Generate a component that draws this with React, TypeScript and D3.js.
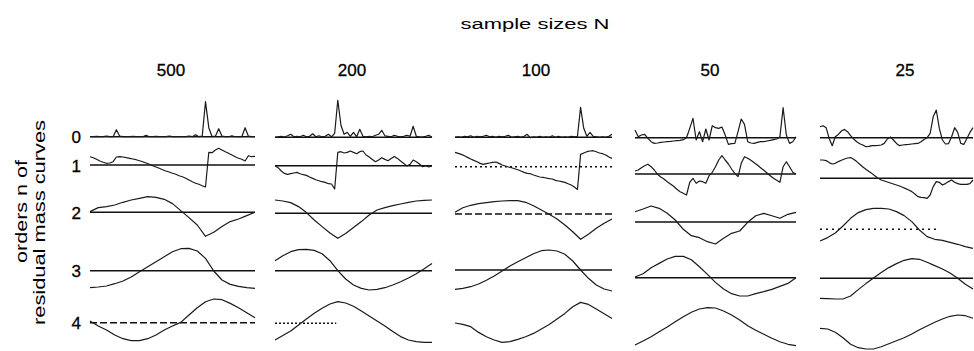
import React, { useEffect, useRef } from 'react'
import * as d3 from 'd3'

// sample sizes (columns) and orders of residual mass curves (rows)
const sampleSizes = ['500', '200', '100', '50', '25']
const orders = ['0', '1', '2', '3', '4']

// curve values, deviation from each panel's zero line (up = positive)
const n500 = [
    [0, 0, 0.3, 0, 0, 0.5, 0, 0, 7, 0.5, 0, 0, 0, 0.3, 0, 0, 0, 1.5, 0, 0, 0.3, 0, 0, 0, 0.5, 0, 0, 0, 0, 0, 0.5, 0, 2, 0, 0.5, 35, 9, 0, 0.5, 8, 0.5, 0, 0, 1, 0, 0, 0, 9, 0.5, 0, 0],
    [8.3, 7.3, 5.7, 4, 2.7, 1.7, 2, 3.3, 8, 8.3, 8, 7.3, 6.7, 6, 5.3, 4.3, 3.3, 2, 0.7, -0.7, -2, -3.3, -4.7, -6, -7, -8.3, -9.3, -10.7, -11.7, -13.3, -15, -16.7, -18.3, -19.3, -20.7, -22, 12.7, 12.3, 15, 16.7, 15, 13.3, 11.7, 10, 8.3, 6.7, 5.7, 4, 9.3, 8.3, 8.7],
    [0.7, 4.7, 5.7, 7.3, 10, 12.3, 14, 15.7, 15, 13, 8.7, 1.7, -5.3, -12.7, -24, -20, -14.3, -9.3, -6.7, -3.3, 0],
    [-17, -16.3, -15.3, -13, -10.3, -6.3, -1, 4, 9, 14, 19, 22, 22.3, 19.7, 12.3, -0.3, -9.3, -13.7, -15.7, -17, -17.7],
    [1.7, -3.3, -7.3, -12.3, -16, -18, -18, -16, -12.3, -7.3, -3.3, 0.3, 7.7, 15, 21, 23.7, 23, 19.3, 15, 10, 5]
]
const n200 = [
    [0, 0.5, 1, 0.3, 1.5, 3, 0.5, 1, 0.5, 2, 0.5, 1, 3.5, 0.5, 1.5, 0.5, 1, 3, 0.5, 4, 37, 12, 3, 5, 1, 5, 0.5, 8, 1, 0.5, 1, 0.5, 2, 3, 7, 1.5, 1, 0.5, 2, 1, 0.5, 1, 2, 1, 11, 1, 0.5, 0.3, 1, 2, 0],
    [0, -2, -5.3, -7.7, -8.7, -8, -7.3, -6.7, -8, -9, -9.7, -11.3, -12.7, -14, -15, -16, -16.7, -18, -18.3, -23.3, 13.3, 14, 12.7, 13.3, 14.7, 13.3, 12, 14, 14.7, 10.7, 8.7, 6.3, 4, 5.7, 8, 6.3, 5, 7.3, 9.3, 7.3, 4.7, 2.3, -0.3, 1.3, 5.7, 4, 1.7, -1, 0, -1.3, -0.3],
    [13.3, 12.3, 10.7, 6.7, 0.7, -6.7, -13.3, -19.7, -25, -20.3, -14.3, -8.3, -1.7, 3.3, 5.7, 7.7, 9.3, 11, 12.3, 13, 13.3],
    [10, 15, 19, 21, 21.3, 20.3, 17, 10, 0, -8.3, -14.3, -17.7, -19.3, -18.7, -17, -14.3, -11, -7.3, -3, 2, 7.3],
    [-16.7, -12.3, -7.7, -1.7, 4.3, 10, 15, 19.3, 21.7, 20.3, 17, 12.3, 7.3, 2.3, -2.7, -8.3, -13.3, -16.7, -18.3, -19, -19]
]
const n100 = [
    [0, 0.5, 0, 1, 0.5, 1.5, 0, 1, 0.5, 1, 2, 0.5, 1, 0, 1, 0.5, 1, 2, 0, 0.5, 1, 0, 1, 3, -0.5, 0.5, 0, 1, 0, 0.5, 0, 1.5, 0, 1, 0, 0.5, 0, 1, 0.5, 1, 30, 9, 1, 5, 1, 0.5, 0, 0.5, 0, 1, 3],
    [14.3, 13.3, 12.3, 11, 9.3, 7.7, 6.3, 5, 3.3, 2.3, 3, 3.7, 4.3, 4.7, 3.3, 1.7, 0.7, -0.3, -1, -2, -3, -4.3, -5.7, -6.7, -7, -8.3, -9.3, -10.3, -10.7, -11.3, -12, -12.3, -13.7, -14.3, -15, -15.7, -17, -18.3, -20.3, -22.7, 12.3, 13.7, 15, 15.7, 16, 15, 13.7, 13, 11.7, 9.7, 8.3],
    [1.7, 6.3, 8.7, 10.3, 11.3, 12.3, 13, 13.3, 13.3, 11.7, 8.3, 4, -0.3, -5, -11, -17.7, -25.3, -20.3, -14.3, -9.3, -5],
    [-19.3, -18.3, -16.7, -14, -10.3, -6, -1, 4, 8.3, 12.3, 16.3, 19.3, 20, 19, 15.7, 9, 0, -8.3, -15, -19, -21],
    [-0.3, -1.7, -4, -9.7, -14, -17.3, -19.7, -19, -16.7, -14, -10.7, -6.3, -1.7, 3.7, 9.3, 16, 20.3, 18.3, 13.7, 9, 4.3]
]
const n50 = [
    [7.7, 1, 2.7, 3.3, -0.7, -4, -5.7, -5.3, -4.7, -4.3, -4, -3.7, -3.3, -3, -2.7, -2, 0, 9.3, 19.3, -2.3, 6, -4, 8.7, -2.3, 12, 10, 9.3, 10.7, 2.7, -6.7, -6, -5.7, 6, 18.7, 13.3, -4, -5.3, -5.7, -4.7, -4, -4, -3.3, -2.7, -2, -1.3, 1, 30, 2.7, -5.7, -4, 1],
    [3, 4, 6.3, 8.3, 9.7, 7.3, 4, -0.3, -3, -5, -7.7, -10, -12.3, -15.3, -17.7, -19.3, -21, -8.3, -4.3, -9.3, -7, -7.7, -9.3, -1.7, 1.7, 7.3, 14, 18.3, 14, 10, 5, 0.7, -2.7, 10.7, 17.3, 15.7, 13.7, 11.3, 9, 6.3, 3.7, 1, -1.7, -4.3, -6.3, -8.3, 7.3, 12.3, 7.3, 1.7, 0],
    [10.3, 13, 16, 13.7, 8.7, 2, -7.3, -13.7, -15.7, -19.7, -22, -16.3, -11.3, -9, -0.3, 6.3, 8.7, 6.3, 3.7, 7.7, 9.7],
    [0.7, 4, 10, 14.3, 18.7, 21.3, 21.3, 18, 11, 3.3, -4.7, -11.3, -16, -18.3, -18.3, -16, -14, -11.7, -8.7, -5.7, 0],
    [-20, -16, -11.7, -6.7, -2, 3.3, 8.3, 12.7, 16, 17.3, 17, 14, 10, 5, -0.7, -5.3, -9.3, -13.3, -16.7, -19.3, -20.7]
]
const n25 = [
    [11, 12, 10, -0.7, -8, 1, 3.3, 6.7, 8.3, 6, 2, -1.3, -4, -6, -7.3, -9, -8.7, -8, -8, -7.7, -7.3, -5.7, -1.3, 0.7, -2.3, -5.7, -8, -7.3, -7, -6.7, -6.3, -6, -5.7, -4, -1.7, 0, 4.3, 21, 27.7, 9.3, -2.3, -6.3, -6, 1, 10, 5.3, -5.7, -6.7, -0.7, 5.3, 10],
    [18.3, 18.3, 17.7, 15.7, 14.3, 15, 16.7, 18, 19.3, 20.3, 20.7, 19, 16.7, 14, 11.3, 9, 6.7, 4.7, 2.3, 0, -1.7, -2.7, -3.7, -4.7, -5.7, -6.7, -7.7, -9, -10.3, -11.7, -13.3, -15.7, -18.3, -19, -19.3, -20, -16.7, -8.3, -3.3, -4, -6.7, -5.3, -3.3, -1.7, -4, -5.3, -6, -6, -6, -5.3, -1.7],
    [-11.7, -8.3, -3.7, 3.3, 11, 16.7, 19.7, 21, 21, 20.3, 17.7, 13.7, 7.7, -0.7, -7.3, -10, -11, -13, -15, -17.3, -19],
    [-20, -20.3, -20.7, -20.7, -17.7, -11.3, -5.3, 0.3, 5.7, 10.7, 14.7, 18, 19.7, 19, 16, 12.7, 9.3, 5.3, 0, -6, -10.7],
    [2.7, 2, -1.3, -6.7, -13.3, -16.7, -18, -18, -15.7, -12.7, -9.7, -6.7, -3, 1.3, 5, 8.7, 12, 14.7, 16, 15.3, 12.7]
]
const curves = [n500, n200, n100, n50, n25]

export default function App() {
    const ref = useRef(null)
    const width = 974
    const height = 351

    // panel layout
    const colX = [[90, 255], [275, 432], [455, 612], [635, 796], [820, 973]]
    const labelX = [171, 352, 536, 710, 905]
    const baseY = [
        [136.7, 165, 212.3, 270.7, 322.7],
        [137.3, 165.7, 213.3, 270.7, 323.3],
        [137.3, 166.7, 214, 270, 322.7],
        [137.7, 174, 222, 277.7, 325],
        [137.7, 178.3, 229.3, 278.3, 331]
    ]
    // zero line style per panel: [end fraction, dash] or null = not drawn
    const zeroLine = [
        [[1, null], [1, null], [1, null], [1, null], [1, '7,3']],
        [[1, null], [1, null], [1, null], [1, null], [0.39, '2,2']],
        [[1, null], [1, '2,3'], [1, '7,3'], [1, null], null],
        [[1, null], [1, null], [1, null], [1, null], null],
        [[1, null], [1, null], [0.76, '2,4'], [1, null], null]
    ]
    const font = '"Liberation Sans", Arial, Helvetica, sans-serif'

    useEffect(() => {
        draw()
    }, [])

    const draw = () => {
        const svg = d3.select(ref.current)
        svg.selectAll('*').remove()

        svg.append('text')
            .attr('x', 535).attr('y', 29)
            .attr('text-anchor', 'middle')
            .attr('textLength', 149).attr('lengthAdjust', 'spacingAndGlyphs')
            .style('font-size', '14px')
            .text('sample sizes N')

        svg.append('text')
            .attr('transform', 'translate(27,211.5) rotate(-90)')
            .attr('text-anchor', 'middle')
            .attr('textLength', 103).attr('lengthAdjust', 'spacingAndGlyphs')
            .style('font-size', '16px')
            .text('orders n of')
        svg.append('text')
            .attr('transform', 'translate(45,222.5) rotate(-90)')
            .attr('text-anchor', 'middle')
            .attr('textLength', 205).attr('lengthAdjust', 'spacingAndGlyphs')
            .style('font-size', '16px')
            .text('residual mass curves')

        // row labels
        svg.append('g')
            .selectAll('text')
            .data(orders)
            .join('text')
            .attr('x', 81)
            .attr('y', (d, i) => baseY[0][i] + 1)
            .attr('text-anchor', 'end')
            .attr('dominant-baseline', 'central')
            .attr('stroke', '#000').attr('stroke-width', 0.3)
            .style('font-size', '17px')
            .text(d => d)

        sampleSizes.forEach((n, c) => {
            const g = svg.append('g')

            g.append('text')
                .attr('x', labelX[c]).attr('y', 76)
                .attr('text-anchor', 'middle')
                .attr('stroke', '#000').attr('stroke-width', 0.3)
                .style('font-size', '17px')
                .text(n)

            curves[c].forEach((vals, r) => {
                const x = d3.scaleLinear()
                    .domain([0, vals.length - 1])
                    .range(colX[c])
                const y = d3.scaleLinear()
                    .domain([-40, 40])
                    .range([baseY[c][r] + 40, baseY[c][r] - 40])

                const z = zeroLine[c][r]
                if (z) {
                    g.append('line')
                        .attr('x1', colX[c][0])
                        .attr('x2', colX[c][0] + (colX[c][1] - colX[c][0]) * z[0])
                        .attr('y1', y(0)).attr('y2', y(0))
                        .attr('stroke', '#111')
                        .attr('stroke-width', 1.4)
                        .attr('stroke-dasharray', z[1])
                }

                const line = d3.line()
                    .x((d, i) => x(i))
                    .y(d => y(d))

                g.append('path')
                    .datum(vals)
                    .attr('d', line)
                    .attr('fill', 'none')
                    .attr('stroke', '#1a1a1a')
                    .attr('stroke-width', 1.2)
                    .attr('stroke-linejoin', 'round')
            })
        })
    }

    return (
        <div style={{ position: 'fixed', left: 0, top: 0 }}>
            <svg ref={ref} width={width} height={height}
                style={{ display: 'block', background: '#fff', fontFamily: font }}></svg>
        </div>
    )
}
